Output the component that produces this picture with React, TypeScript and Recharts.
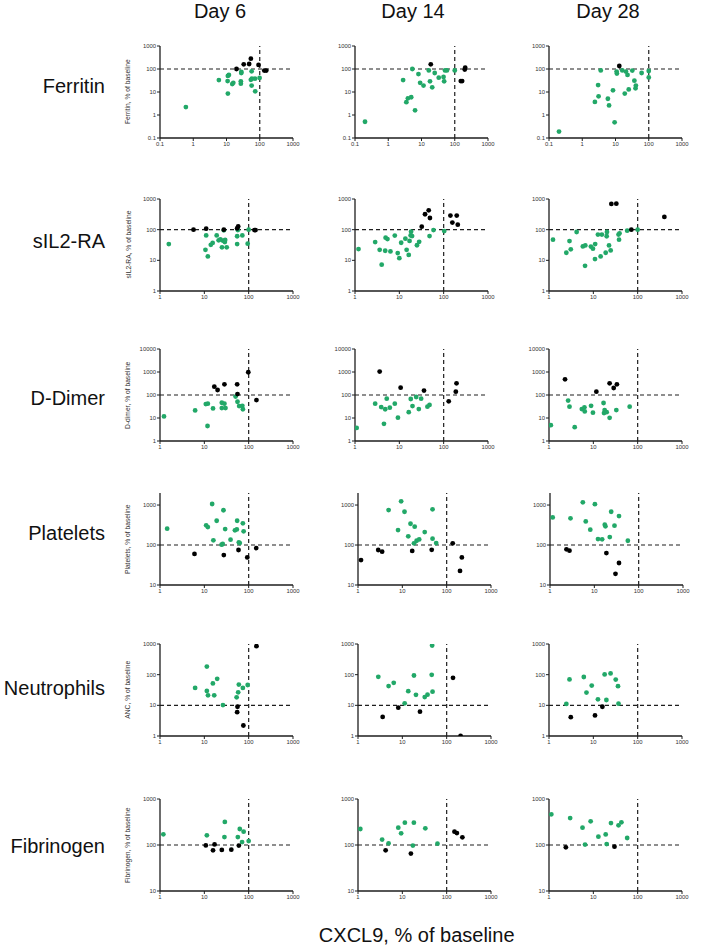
import React from 'react';
import { ScatterChart, Scatter, XAxis, YAxis, ReferenceLine } from 'recharts';

type P = [number, number];

const DAYS = ['Day 6', 'Day 14', 'Day 28'];
const MARKERS = ['Ferritin', 'sIL2-RA', 'D-Dimer', 'Platelets', 'Neutrophils', 'Fibrinogen'];
const Y_LABELS = [
  'Ferritin, % of baseline',
  'sIL2-RA, % of baseline',
  'D-dimer, % of baseline',
  'Platelets, % of baseline',
  'ANC, % of baseline',
  'Fibrinogen, % of baseline',
];
const X_TITLE = 'CXCL9, % of baseline';

const X_TICKS_FERRITIN = [0.1, 1, 10, 100, 1000];
const X_TICKS_OTHER = [1, 10, 100, 1000];
const Y_TICKS = [
  [0.1, 1, 10, 100, 1000],
  [1, 10, 100, 1000],
  [1, 10, 100, 1000, 10000],
  [10, 100, 1000],
  [1, 10, 100, 1000],
  [10, 100, 1000],
];
const Y_DOMAINS: [number, number][] = [[0.1, 1000], [1, 1000], [1, 10000], [10, 2000], [1, 1000], [10, 1000]];
const Y_THRESHOLDS = [100, 100, 100, 100, 10, 100];
const X_THRESHOLD = 100;

// ---- Ferritin
const ferritinD6Green: P[] = [[0.6, 2.2], [11.8, 55], [11, 50], [5.9, 33], [10.8, 30], [11, 8.5], [14.9, 22], [16, 25], [27.8, 67], [28, 74], [27, 29], [27, 23], [57, 79], [54, 34], [58, 38], [72, 38], [99, 41], [57, 19], [73, 10.7]];
const ferritinD6Black: P[] = [[20, 100], [33, 160], [48, 165], [54, 280], [92, 150], [137, 85], [157, 85]];
const ferritinD14Green: P[] = [[0.2, 0.51], [2.8, 33], [3.5, 3.6], [3.9, 5.3], [4.9, 5.9], [5.3, 100], [6.4, 1.6], [8.1, 60], [9.1, 25], [11.5, 19], [16.6, 87], [18, 29], [21, 16], [25, 67], [33, 42], [46, 45], [48, 29], [51, 87], [58, 87], [100, 87]];
const ferritinD14Black: P[] = [[19, 160], [152, 30], [167, 30], [206, 114], [200, 94]];
const ferritinD28Green: P[] = [[0.2, 0.19], [2.4, 3.7], [3.0, 20], [3.1, 6.5], [3.6, 87], [5.9, 5.1], [6.4, 2.6], [8.4, 11.8], [9.4, 0.48], [11, 63], [10.8, 77], [16, 87], [19, 8.5], [20.6, 77], [23, 55], [25, 13], [32, 85], [37, 31], [40, 14.5], [41, 19], [61, 67], [100, 82], [100, 43]];
const ferritinD28Black: P[] = [[13, 135]];

// ---- sIL2-RA
const sil2D6Green: P[] = [[1.58, 34], [11, 65], [10.6, 22], [12, 13.4], [14, 32], [15.4, 37], [19, 65], [21, 45], [23, 48], [25, 26.5], [26, 44], [27.5, 95], [29, 39.5], [29.5, 46], [32, 26.5], [55, 34], [55, 61], [57, 97], [72, 65], [95, 35], [100, 100]];
const sil2D6Black: P[] = [[5.7, 100], [11, 108], [27.5, 100], [58, 128], [55, 110], [135, 97], [143, 97]];
const sil2D14Green: P[] = [[1.2, 23.3], [2.85, 39.5], [3.6, 22], [4.0, 7.2], [4.8, 20.5], [4.9, 55], [5.4, 49.5], [6.3, 19.5], [7.9, 64], [9.2, 17.3], [10, 11.8], [11, 37.5], [13.7, 51], [14.6, 22], [16.3, 15], [17, 43], [18, 65], [18.4, 86], [19.4, 62], [25, 31], [28, 40], [48, 62], [59, 97], [103, 90]];
const sil2D14Black: P[] = [[32, 125], [38, 318], [46, 428], [49, 240], [142, 287], [157, 170], [197, 287], [208, 146]];
const sil2D28Green: P[] = [[1.23, 47], [2.46, 17.7], [2.9, 42.6], [3.1, 22.8], [4.2, 84], [5.8, 28.5], [6.6, 30.7], [6.5, 6.6], [8.8, 28], [9.8, 24], [11, 34], [10.9, 11], [12.7, 69], [15.6, 69], [14.6, 13.4], [19, 17.7], [20, 61], [20.3, 84], [22.6, 30.7], [24.6, 21], [37, 69], [39, 76], [38, 47], [58, 93], [100, 100]];
const sil2D28Black: P[] = [[25.5, 690], [33, 706], [72, 100], [400, 260]];

// ---- D-Dimer
const ddimerD6Green: P[] = [[1.23, 11.7], [6.2, 21.4], [10.8, 40.5], [12, 42], [11.8, 4.5], [15.7, 26], [24.8, 46], [24.8, 27], [28.4, 42], [30, 27], [50.7, 85], [56, 51], [61, 33], [72, 34], [74, 24]];
const ddimerD6Black: P[] = [[16.8, 231], [19.9, 165], [28.4, 292], [55, 292], [56, 110], [98, 975], [150, 60]];
const ddimerD14Green: P[] = [[1.09, 3.7], [2.85, 42], [3.9, 30], [4.8, 24], [4.5, 5.6], [5.2, 69], [6.1, 28], [7.9, 42], [9.3, 10.3], [16.3, 18], [18.1, 67], [19.8, 33], [24, 82], [27.5, 24.5], [31, 69], [43, 31], [48, 37]];
const ddimerD14Black: P[] = [[3.6, 1040], [10.7, 209], [36, 155], [130, 53], [188, 140], [195, 322]];
const ddimerD28Green: P[] = [[1.1, 4.9], [2.7, 57], [2.9, 31], [3.8, 4.0], [5.5, 24.5], [6.3, 29], [6.4, 19.4], [8.9, 34], [9.8, 17], [17, 45], [17.4, 16.4], [18, 22], [20, 18], [23.3, 10.2], [33, 22], [66, 31]];
const ddimerD28Black: P[] = [[2.3, 482], [11.7, 140], [23.3, 323], [28.8, 202], [34, 292]];

// ---- Platelets
const plateletsD6Green: P[] = [[1.45, 256], [15, 1060], [27, 740], [11, 310], [12, 281], [19, 405], [16, 131], [29.5, 251], [24.5, 102], [26, 106], [39, 136], [49, 233], [54, 245], [55, 405], [74, 348], [77, 220], [60, 117], [63, 112]];
const plateletsD6Black: P[] = [[6, 60], [27.5, 56], [59, 75], [93, 49], [148, 84]];
const plateletsD14Green: P[] = [[4.9, 750], [9.4, 1240], [11.2, 680], [8, 237], [15.3, 340], [19, 287], [13.6, 165], [18.3, 110], [21, 128], [24, 138], [32, 211], [48, 780], [48, 144], [58, 112]];
const plateletsD14Black: P[] = [[1.17, 42], [2.86, 75], [3.5, 68], [16.7, 71], [46, 76], [137, 110], [220, 49], [200, 22.5]];
const plateletsD28Green: P[] = [[1.15, 490], [2.9, 465], [5.5, 1170], [6.4, 390], [8.1, 242], [10.3, 1050], [12.1, 141], [15, 139], [17.2, 323], [17.8, 293], [22.3, 158], [24, 680], [28.5, 304], [36, 530], [57, 128]];
const plateletsD28Black: P[] = [[2.35, 78], [2.75, 72], [18.7, 63], [30, 19], [36, 35.5]];

// ---- Neutrophils (ANC)
const ancD6Green: P[] = [[6.2, 37], [11.4, 184], [11.4, 29.5], [12.1, 21.2], [15.6, 52], [19.5, 73], [16.7, 21.2], [26.3, 10.2], [53.5, 18.3], [58, 26.6], [60, 47.5], [74, 37], [95, 46]];
const ancD6Black: P[] = [[150, 850], [56, 9], [55, 6], [76, 2.2]];
const ancD14Green: P[] = [[2.87, 85], [4.9, 42.5], [6.4, 54], [11.3, 11.6], [13.6, 29], [18.3, 94], [20.3, 22], [32, 18.6], [37, 22.2], [46, 99], [47, 890], [48, 27.8]];
const ancD14Black: P[] = [[3.6, 4.2], [8.1, 8.4], [25, 6.2], [139, 79], [206, 1.0]];
const ancD28Green: P[] = [[2.46, 11.1], [2.9, 70], [6.1, 84], [7.0, 26], [9.2, 44], [12.7, 15.7], [18, 102], [19.7, 14.9], [24.5, 110], [32, 69], [36, 42], [37, 11.3]];
const ancD28Black: P[] = [[3.1, 4.1], [10.9, 4.7], [16, 9]];

// ---- Fibrinogen
const fibD6Green: P[] = [[1.19, 171], [11.4, 162], [29, 318], [28.4, 149], [57, 149], [63, 223], [77, 195], [71, 116], [100, 122]];
const fibD6Black: P[] = [[10.8, 98], [15.7, 76.5], [17, 103], [24.8, 78], [40.6, 79], [60, 97]];
const fibD14Green: P[] = [[1.13, 223], [3.5, 131], [4.9, 109], [8.1, 238], [9.4, 179], [11.4, 306], [18.2, 306], [17.3, 97], [33, 230], [62, 107]];
const fibD14Black: P[] = [[4.2, 76.6], [15.6, 65], [150, 195], [170, 182], [226, 147]];
const fibD28Green: P[] = [[1.13, 465], [3.0, 385], [5.7, 238], [8.7, 327], [6.5, 102], [13, 152], [19, 170], [20, 105], [25, 300], [37, 268], [43, 311], [58, 142]];
const fibD28Black: P[] = [[2.4, 89], [30, 92]];

const GREEN_DATA: P[][][] = [
  [ferritinD6Green, ferritinD14Green, ferritinD28Green],
  [sil2D6Green, sil2D14Green, sil2D28Green],
  [ddimerD6Green, ddimerD14Green, ddimerD28Green],
  [plateletsD6Green, plateletsD14Green, plateletsD28Green],
  [ancD6Green, ancD14Green, ancD28Green],
  [fibD6Green, fibD14Green, fibD28Green],
];
const BLACK_DATA: P[][][] = [
  [ferritinD6Black, ferritinD14Black, ferritinD28Black],
  [sil2D6Black, sil2D14Black, sil2D28Black],
  [ddimerD6Black, ddimerD14Black, ddimerD28Black],
  [plateletsD6Black, plateletsD14Black, plateletsD28Black],
  [ancD6Black, ancD14Black, ancD28Black],
  [fibD6Black, fibD14Black, fibD28Black],
];

// ---- layout (positions only)
const PLOT_W = 133;
const PLOT_H = 92;
const ROW_TOPS = [45.7, 198.5, 349.3, 493.3, 643.7, 799.3];
const COL_LEFTS = [
  [160.3, 355.3, 549.3],
  [160.3, 355.3, 549.3],
  [160.3, 355.3, 549.3],
  [160.3, 357.6, 550],
  [160.3, 357.6, 549],
  [160.3, 357.6, 549.3],
];
const ROW_LABEL_BASE = [93, 248, 405, 540, 695, 853];
const DAY_X = [220, 413, 608];

const YW = 30;
const MT = 4;
const MR = 8;
const XH = 18;

const GREEN = '#22a868';
const AXIS = '#1e1e1e';
const FONT = 'Liberation Sans, Arial, Helvetica, sans-serif';

const dot = (fill: string) => (props: any) => (
  <circle cx={props.cx} cy={props.cy} r={2.4} fill={fill} />
);

const fmt = (v: number) => String(v);

function Panel({ row, col }: { row: number; col: number }) {
  const left = COL_LEFTS[row][col];
  const top = ROW_TOPS[row];
  const xDomain: [number, number] = row === 0 ? [0.1, 1000] : [1, 1000];
  const xTicks = row === 0 ? X_TICKS_FERRITIN : X_TICKS_OTHER;
  const green = GREEN_DATA[row][col].map(([x, y]) => ({ x, y }));
  const black = BLACK_DATA[row][col].map(([x, y]) => ({ x, y }));
  const tickStyle = { fontSize: 5.9, fill: '#333', fontFamily: FONT };
  return (
    <div style={{ position: 'absolute', left: left - YW, top: top - MT }}>
      <ScatterChart
        width={YW + PLOT_W + MR}
        height={MT + PLOT_H + XH}
        margin={{ top: MT, right: MR, bottom: 0, left: 0 }}
      >
        <XAxis
          type="number"
          dataKey="x"
          scale="log"
          domain={xDomain}
          ticks={xTicks}
          allowDataOverflow
          height={XH}
          tick={tickStyle}
          tickFormatter={fmt}
          tickSize={3}
          tickMargin={1}
          axisLine={{ stroke: AXIS, strokeWidth: 1.3 }}
          tickLine={{ stroke: AXIS, strokeWidth: 1 }}
          interval={0}
        />
        <YAxis
          type="number"
          dataKey="y"
          scale="log"
          domain={Y_DOMAINS[row]}
          ticks={Y_TICKS[row]}
          allowDataOverflow
          width={YW}
          tick={tickStyle}
          tickFormatter={fmt}
          tickSize={3}
          tickMargin={1}
          axisLine={{ stroke: AXIS, strokeWidth: 1.3 }}
          tickLine={{ stroke: AXIS, strokeWidth: 1 }}
          interval={0}
        />
        <ReferenceLine x={X_THRESHOLD} stroke={AXIS} strokeWidth={1.2} strokeDasharray="4 3" />
        <ReferenceLine y={Y_THRESHOLDS[row]} stroke={AXIS} strokeWidth={1.2} strokeDasharray="4 3" />
        <Scatter data={green} fill={GREEN} shape={dot(GREEN)} isAnimationActive={false} />
        <Scatter data={black} fill="#000" shape={dot('#000')} isAnimationActive={false} />
      </ScatterChart>
    </div>
  );
}

export default function App() {
  return (
    <div
      style={{
        position: 'absolute',
        left: 0,
        top: 0,
        width: 709,
        height: 948,
        background: '#fff',
        fontFamily: FONT,
        overflow: 'hidden',
      }}
    >
      <svg width={709} height={948} style={{ position: 'absolute', left: 0, top: 0 }}>
        {DAYS.map((d, i) => (
          <text key={d} x={DAY_X[i]} y={18} fontSize={20} textAnchor="middle" fill="#111" fontFamily={FONT}>
            {d}
          </text>
        ))}
        {MARKERS.map((m, i) => (
          <text key={m} x={105} y={ROW_LABEL_BASE[i]} fontSize={20} textAnchor="end" fill="#111" fontFamily={FONT}>
            {m}
          </text>
        ))}
        {Y_LABELS.map((l, i) => {
          const cy = ROW_TOPS[i] + PLOT_H / 2;
          return (
            <text
              key={l}
              x={130.5}
              y={cy}
              fontSize={6.7}
              textAnchor="middle"
              fill="#333"
              fontFamily={FONT}
              transform={`rotate(-90 130.5 ${cy})`}
            >
              {l}
            </text>
          );
        })}
        <text x={416.7} y={942} fontSize={20} textAnchor="middle" fill="#111" fontFamily={FONT}>
          {X_TITLE}
        </text>
      </svg>
      {MARKERS.map((_, r) =>
        DAYS.map((__, c) => <Panel key={`${r}-${c}`} row={r} col={c} />)
      )}
    </div>
  );
}
